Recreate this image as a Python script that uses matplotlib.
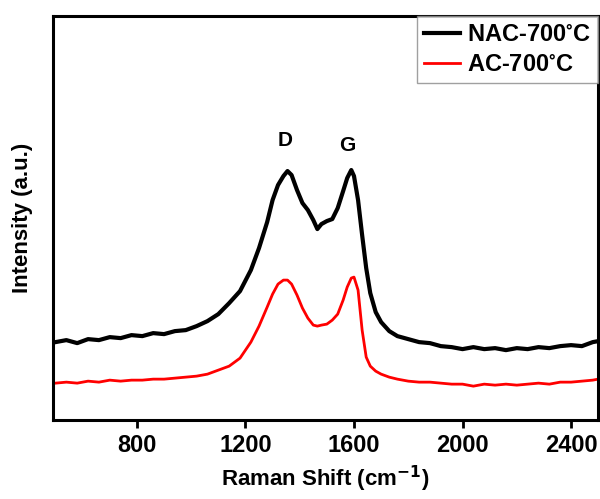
import matplotlib
matplotlib.use("Agg")
import matplotlib.pyplot as plt

plt.rcParams["font.family"] = ["Liberation Sans", "DejaVu Sans"]
plt.rcParams["font.weight"] = "bold"
plt.rcParams["mathtext.default"] = "regular"

# Raman shift (cm-1)
shift = [500, 540, 580, 620, 660, 700, 740, 780, 820, 860, 900, 940, 980,
         1020, 1060, 1100, 1140, 1180, 1220, 1250, 1280, 1300, 1320, 1340,
         1355, 1370, 1390, 1410, 1430, 1450, 1465, 1480, 1500, 1520, 1540,
         1560, 1575, 1590, 1600, 1615, 1630, 1645, 1660, 1680, 1700, 1730,
         1760, 1800, 1840, 1880, 1920, 1960, 2000, 2040, 2080, 2120, 2160,
         2200, 2240, 2280, 2320, 2360, 2400, 2440, 2480, 2500]

# intensity (a.u.)
nac_700 = [78, 80, 77, 81, 80, 83, 82, 85, 84, 87, 86, 89, 90,
           94, 99, 106, 117, 129, 150, 172, 198, 220, 235, 244,
           249, 245, 230, 217, 210, 200, 191, 196, 199, 201, 212,
           229, 242, 250, 244, 220, 185, 152, 127, 108, 98, 89,
           84, 81, 78, 77, 74, 73, 71, 73, 71, 72, 70,
           72, 71, 73, 72, 74, 75, 74, 78, 79]

ac_700 = [37, 38, 37, 39, 38, 40, 39, 40, 40, 41, 41, 42, 43,
          44, 46, 50, 54, 62, 78, 94, 113, 126, 136, 140,
          140, 136, 125, 112, 102, 95, 94, 95, 96, 100, 106,
          120, 133, 142, 143, 130, 90, 63, 54, 49, 46, 43,
          41, 39, 38, 38, 37, 36, 36, 34, 36, 35, 36,
          35, 36, 37, 36, 38, 38, 39, 40, 41]

fig = plt.figure(figsize=(6, 4.99), dpi=100)
ax = fig.add_axes([0.088, 0.158, 0.909, 0.81])

ax.plot(shift, nac_700, color="black", lw=3, label=r"NAC-700$^{\circ}$C")
ax.plot(shift, ac_700, color="#ff0000", lw=2, label=r"AC-700$^{\circ}$C")

ax.text(1347, 280, "D", fontsize=15, fontweight="bold", ha="center", va="center")
ax.text(1575, 275, "G", fontsize=15, fontweight="bold", ha="center", va="center")

ax.set_xlim(490, 2500)
ax.set_ylim(0, 404)
ax.set_xticks([800, 1200, 1600, 2000, 2400])
ax.set_yticks([])
ax.tick_params(axis="x", direction="out", length=6, width=2, labelsize=17, pad=4)
for s in ax.spines.values():
    s.set_linewidth(2.2)

ax.set_xlabel(r"Raman Shift (cm$^{\mathbf{-1}}$)", fontsize=16, fontweight="bold", labelpad=5)
ax.set_ylabel("Intensity (a.u.)", fontsize=16, fontweight="bold", labelpad=14)

leg = ax.legend(loc="upper right", fontsize=17, frameon=True, fancybox=False,
                borderaxespad=0, handlelength=1.5, handletextpad=0.3,
                labelspacing=0.3, borderpad=0.3)
leg.get_frame().set_edgecolor("#888888")
leg.get_frame().set_linewidth(1)
for t in leg.get_texts():
    t.set_fontweight("bold")

fig.savefig("out.png", dpi=100)
